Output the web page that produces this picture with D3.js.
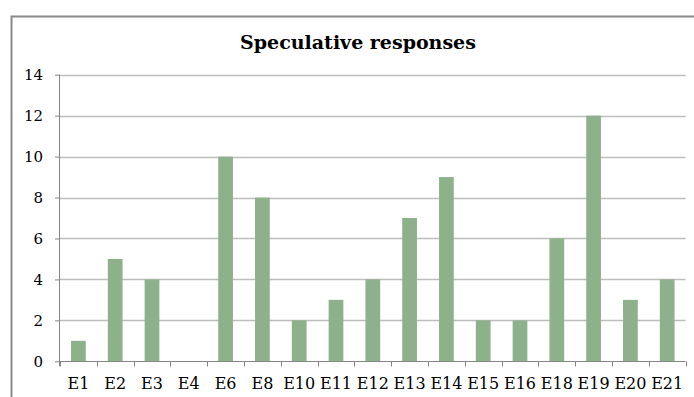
<!DOCTYPE html>
<html>
<head>
<meta charset="utf-8">
<script src="https://cdn.jsdelivr.net/npm/d3@7"></script>
<style>
  html, body { margin: 0; padding: 0; background: #fff; }
  svg { display: block; }
</style>
</head>
<body>
<svg id="chart" width="694" height="397"></svg>
<script>
// Responses per exercise
const categories = ["E1","E2","E3","E4","E6","E8","E10","E11","E12","E13","E14","E15","E16","E18","E19","E20","E21"];
const responses = [1,5,4,0,10,8,2,3,4,7,9,2,2,6,12,3,4];
const yTicks = [0,2,4,6,8,10,12,14];
const title = "Speculative responses";

const svg = d3.select("#chart");
const W = 694, H = 397;
const plot = { left: 60, right: 685.6, top: 74.7, bottom: 361.3 };
const labelFont = "'DejaVu Serif', Georgia, serif";

// Chart frame (extends past the visible window on the right and bottom)
svg.append("rect")
  .attr("x", 11.5).attr("y", 16.5)
  .attr("width", W + 20).attr("height", H + 20)
  .attr("fill", "#fff")
  .attr("stroke", "#8a8a8a").attr("stroke-width", 2);

svg.append("text")
  .attr("x", 358).attr("y", 49)
  .attr("text-anchor", "middle")
  .attr("font-family", labelFont)
  .attr("font-weight", "bold")
  .attr("font-size", 19)
  .attr("fill", "#000")
  .text(title);

const x = d3.scaleBand()
  .domain(categories)
  .range([plot.left, plot.right])
  .paddingInner(0.6).paddingOuter(0.3);

const xTick = d3.scaleBand().domain(categories).range([plot.left, plot.right]);

const y = d3.scaleLinear().domain([0, 14]).range([plot.bottom, plot.top]);

// Horizontal gridlines
svg.append("g")
  .selectAll("line")
  .data(yTicks.filter(d => d > 0))
  .join("line")
  .attr("x1", plot.left).attr("x2", plot.right)
  .attr("y1", d => Math.round(y(d)) + 0.5).attr("y2", d => Math.round(y(d)) + 0.5)
  .attr("stroke", "#bdbdbd").attr("stroke-width", 1.5);

// Bars
svg.append("g")
  .selectAll("rect")
  .data(responses)
  .join("rect")
  .attr("x", (d, i) => x(categories[i]))
  .attr("width", x.bandwidth())
  .attr("y", d => y(d))
  .attr("height", d => y(0) - y(d))
  .attr("fill", "#8db18a");

// Y axis
const yAxis = svg.append("g")
  .attr("transform", `translate(${plot.left},0)`)
  .call(d3.axisLeft(y).tickValues(yTicks).tickSize(5).tickPadding(12).tickSizeOuter(0));
yAxis.select(".domain").attr("stroke", "#868686").attr("d", `M-0.5,${plot.top}V${plot.bottom + 5}`);
yAxis.selectAll(".tick line").attr("stroke", "#868686");
yAxis.selectAll("text")
  .attr("font-family", labelFont).attr("font-size", 15).attr("fill", "#000");

// X axis with ticks at category boundaries
const xAxis = svg.append("g").attr("transform", `translate(0,${Math.round(plot.bottom) + 0.5})`);
xAxis.append("line")
  .attr("x1", plot.left).attr("x2", plot.right)
  .attr("stroke", "#868686");
xAxis.selectAll("line.tk")
  .data(categories.map(c => xTick(c)).concat([plot.right]))
  .join("line").attr("class", "tk")
  .attr("x1", d => Math.round(d) + 0.5).attr("x2", d => Math.round(d) + 0.5)
  .attr("y1", 0).attr("y2", 5)
  .attr("stroke", "#868686");
xAxis.selectAll("text")
  .data(categories)
  .join("text")
  .attr("x", d => xTick(d) + xTick.bandwidth() / 2)
  .attr("y", 27)
  .attr("text-anchor", "middle")
  .attr("font-family", labelFont).attr("font-size", 16).attr("fill", "#000")
  .text(d => d);
</script>
</body>
</html>
